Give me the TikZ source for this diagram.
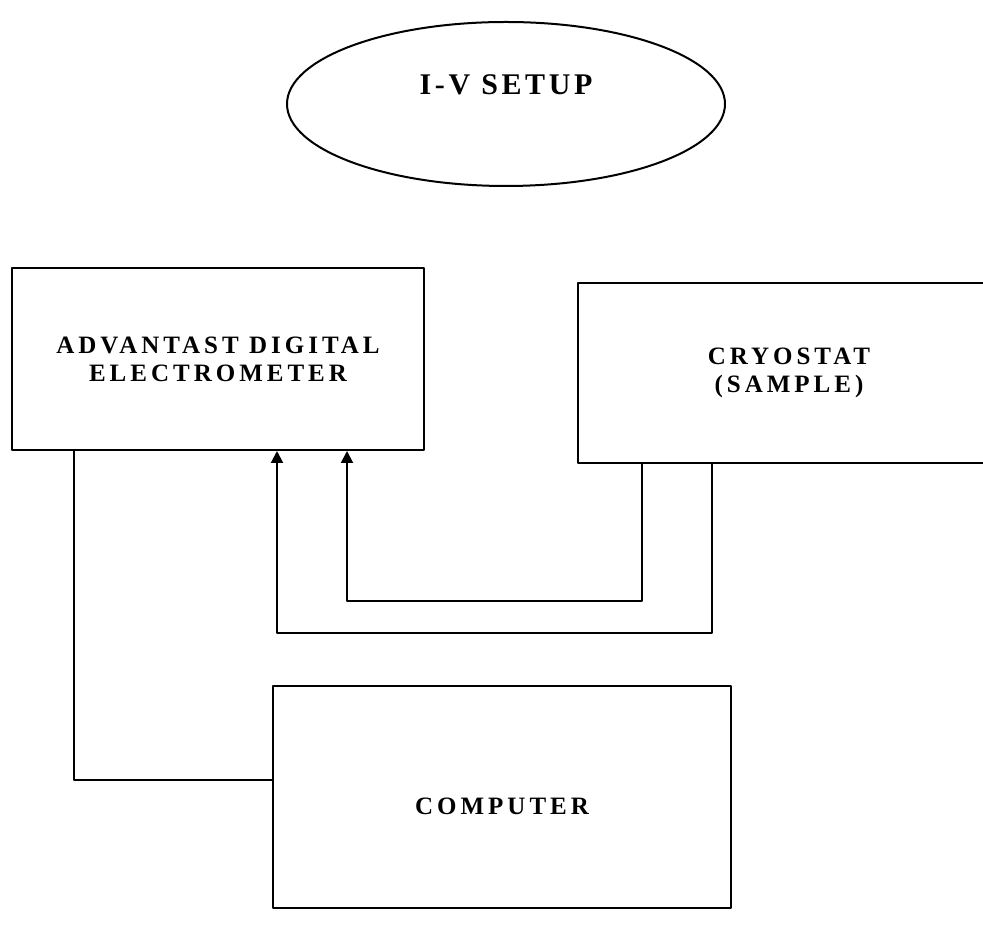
\documentclass[tikz,border=0pt]{standalone}
\usepackage{fontspec}
\setmainfont{Liberation Serif}
\usetikzlibrary{arrows.meta,shapes.geometric}
\tikzset{
  unitbox/.style={draw,rectangle,align=center,font=\fontsize{25bp}{28bp}\selectfont\bfseries\addfontfeatures{LetterSpace=16}},
  titleshape/.style={draw,ellipse,inner sep=0pt},
  wire/.style={line width=2bp},
}
\begin{document}
\begin{tikzpicture}[>={Triangle[width=12bp,length=12bp]},line join=bevel,wire]
  \useasboundingbox (0bp,0bp) rectangle (983bp,932bp);
  % Node: Setup
  \node[titleshape,minimum width=438bp,minimum height=164bp,
    label={[yshift=19bp,font=\fontsize{30bp}{34bp}\selectfont\bfseries\addfontfeatures{LetterSpace=12}]center:I-V SETUP}]
    (setup) at (506bp,828bp) {};
  % Node: Electrometer
  \node[unitbox,minimum width=412bp,minimum height=182bp] (electrometer) at (218bp,573bp)
    {ADVANTAST DIGITAL\\ELECTROMETER};
  % Node: Cryostat
  \node[unitbox,minimum width=422bp,minimum height=180bp] (cryostat) at (789bp,559bp)
    {CRYOSTAT\\(SAMPLE)};
  % Node: Computer
  \node[unitbox,minimum width=458bp,minimum height=222bp,text height=36bp] (computer) at (502bp,135bp)
    {COMPUTER};
  % Edge: Electrometer -> Computer
  \draw ([xshift=63bp]electrometer.south west) |- ([yshift=17bp]computer.west);
  % Edge: Cryostat -> Electrometer (inner)
  \draw[->] ([xshift=65bp]cryostat.south west) -- ++(0bp,-137bp)
    -| ([xshift=336bp]electrometer.south west);
  % Edge: Cryostat -> Electrometer (outer)
  \draw[->] ([xshift=135bp]cryostat.south west) -- ++(0bp,-169bp)
    -| ([xshift=266bp]electrometer.south west);
\end{tikzpicture}
\end{document}
